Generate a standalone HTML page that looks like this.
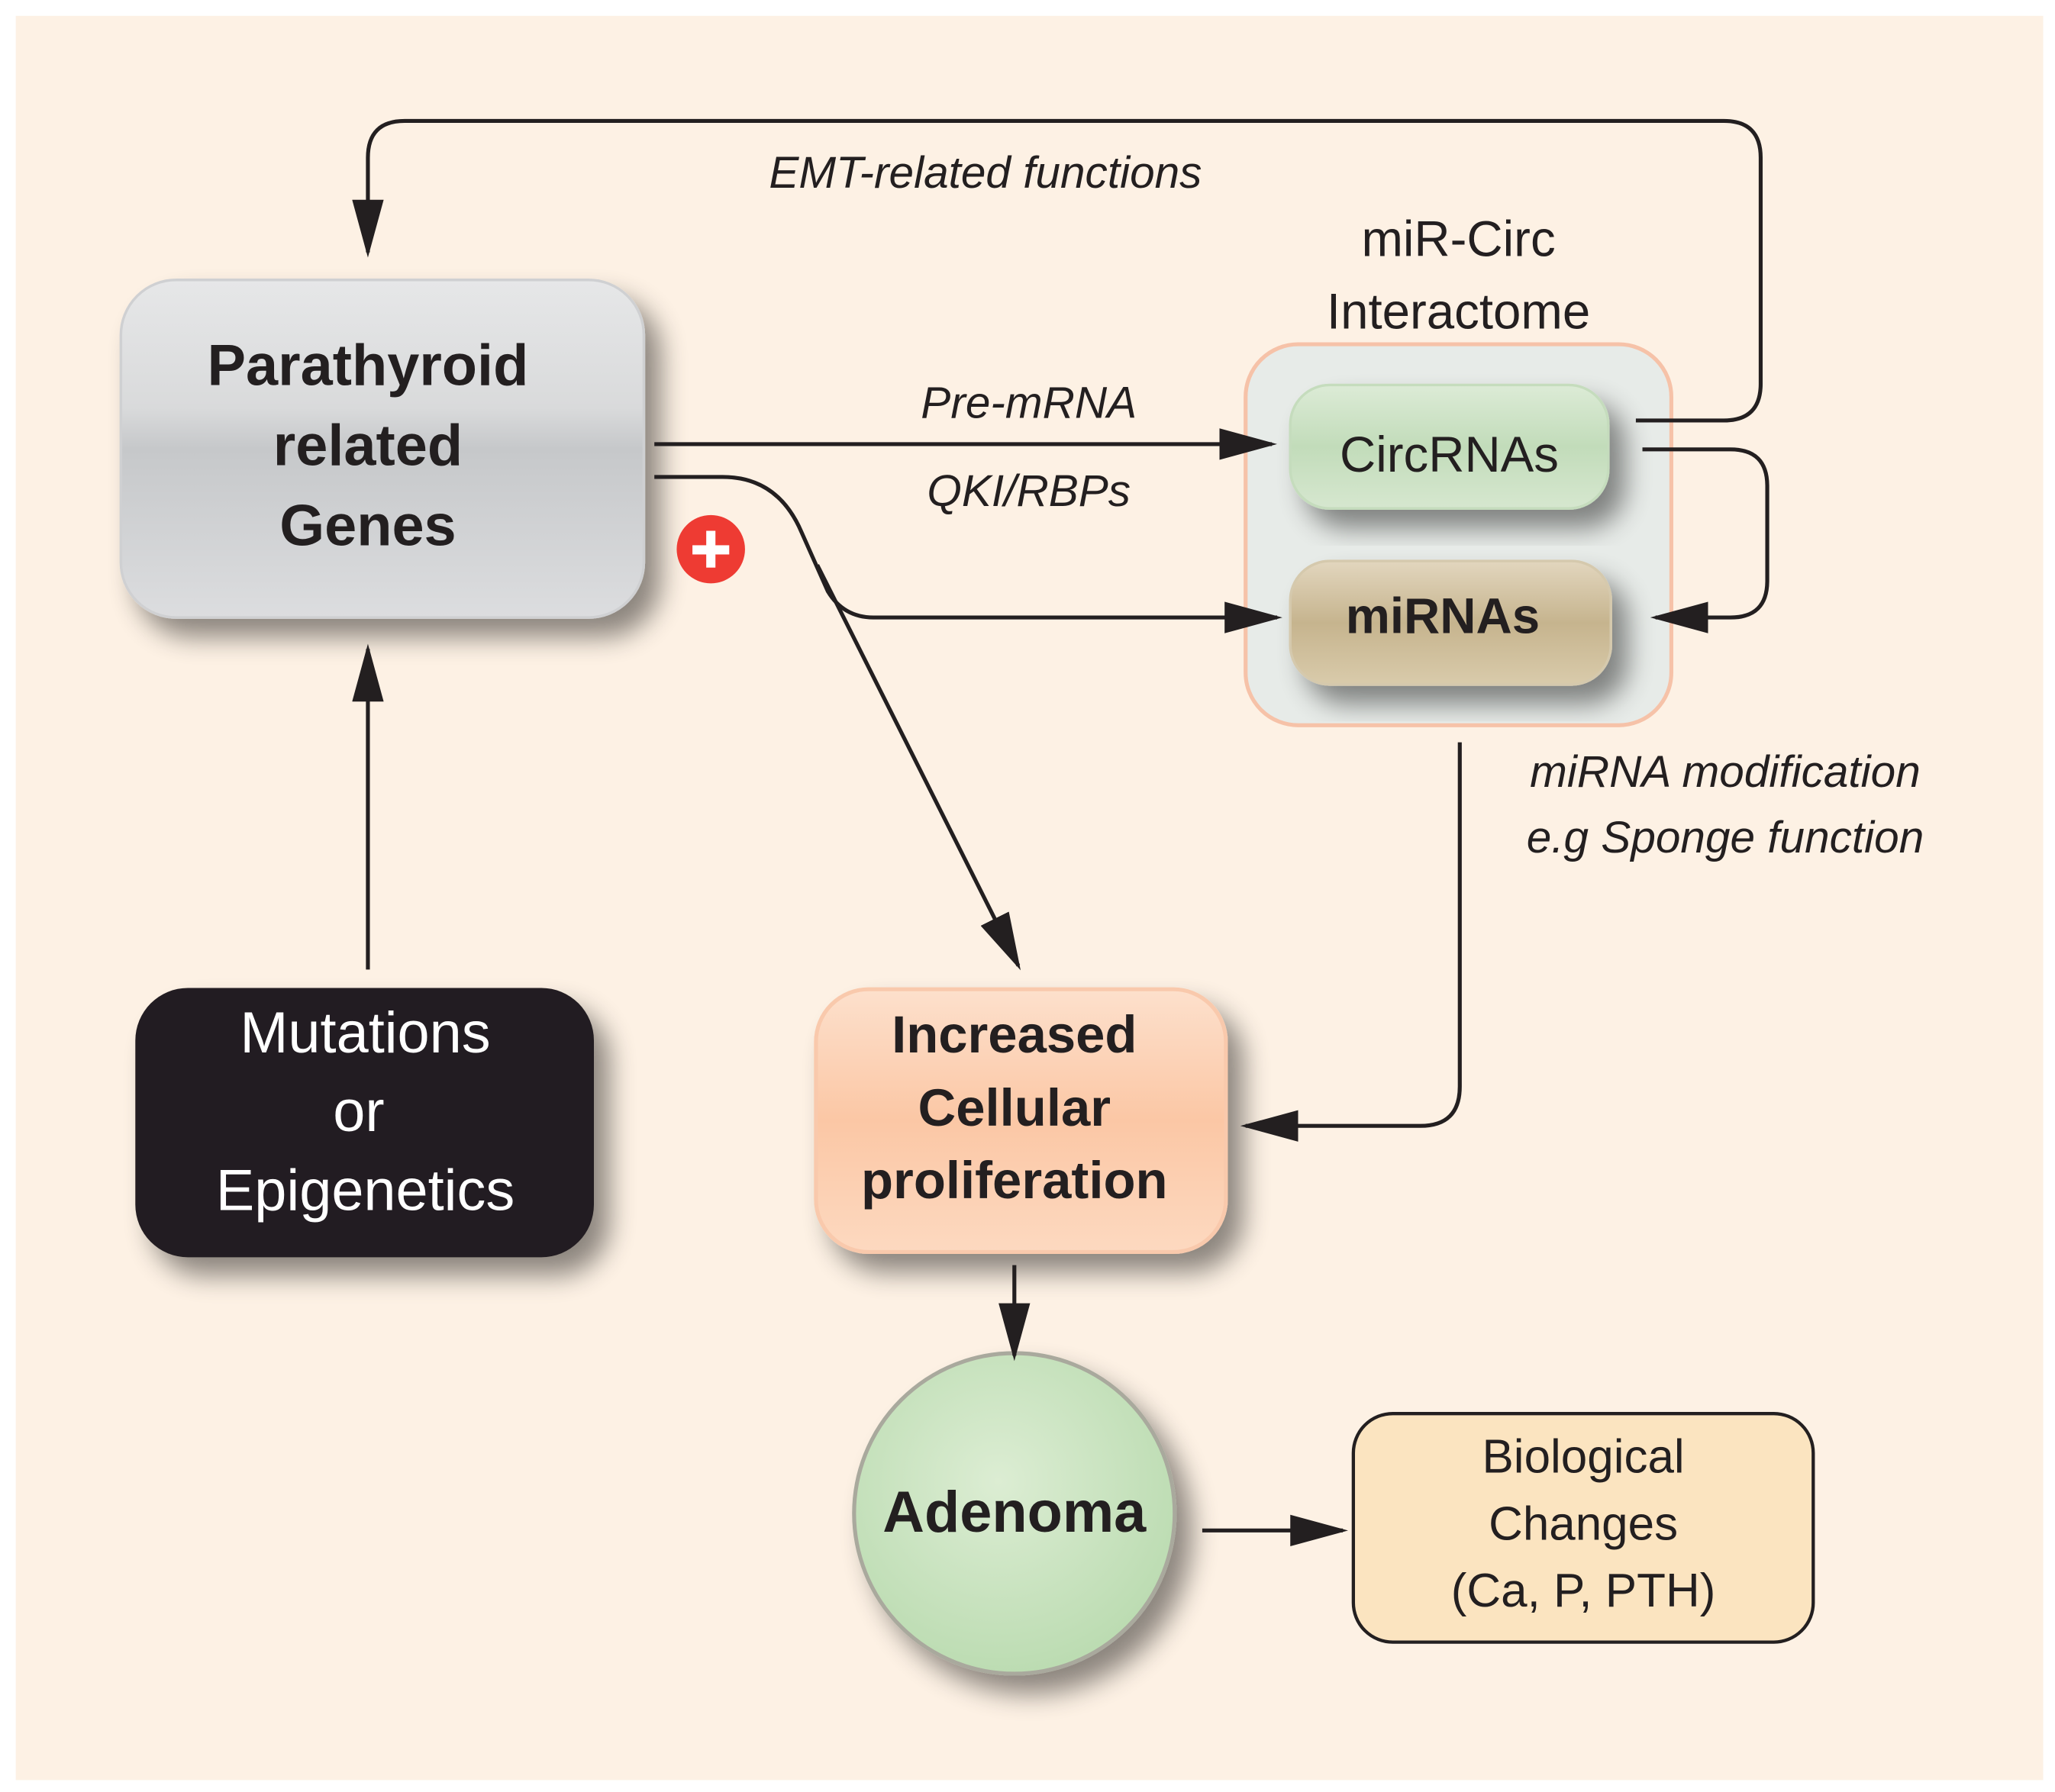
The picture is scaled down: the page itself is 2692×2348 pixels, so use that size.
<!DOCTYPE html>
<html><head><meta charset="utf-8"><style>
html,body{margin:0;padding:0;background:#fff;}
svg{display:block;}
text{font-family:"Liberation Sans",sans-serif;fill:#231f20;}
</style></head><body>
<svg width="2692" height="2348" viewBox="0 0 1564 1364" xmlns="http://www.w3.org/2000/svg">
<defs>
<linearGradient id="g1" x1="0" y1="0" x2="0" y2="1"><stop offset="0" stop-color="#e6e7e8"/><stop offset="0.38" stop-color="#d9dadb"/><stop offset="0.5" stop-color="#c6c8ca"/><stop offset="1" stop-color="#dcdddf"/></linearGradient>
<linearGradient id="gc" x1="0" y1="0" x2="0" y2="1"><stop offset="0" stop-color="#dcebd6"/><stop offset="0.5" stop-color="#c2dcba"/><stop offset="1" stop-color="#d6e7cf"/></linearGradient>
<linearGradient id="gm" x1="0" y1="0" x2="0" y2="1"><stop offset="0" stop-color="#e2d6be"/><stop offset="0.5" stop-color="#c6b48e"/><stop offset="1" stop-color="#d9cbab"/></linearGradient>
<linearGradient id="gi" x1="0" y1="0" x2="0" y2="1"><stop offset="0" stop-color="#fde0cc"/><stop offset="0.5" stop-color="#fbc7a5"/><stop offset="1" stop-color="#fdd9c0"/></linearGradient>
<radialGradient id="ga" cx="0.45" cy="0.4" r="0.6"><stop offset="0" stop-color="#dcedd3"/><stop offset="1" stop-color="#bcdcb2"/></radialGradient>
<filter id="sh" x="-30%" y="-30%" width="160%" height="160%"><feGaussianBlur in="SourceAlpha" stdDeviation="10"/><feOffset dx="12" dy="14"/><feComponentTransfer><feFuncA type="linear" slope="0.45"/></feComponentTransfer><feMerge><feMergeNode/><feMergeNode in="SourceGraphic"/></feMerge></filter>
<marker id="ah" markerWidth="10" markerHeight="8" refX="9" refY="4" orient="auto" markerUnits="userSpaceOnUse" viewBox="0 0 10 8"><path d="M0,0 L10,4 L0,8 z" fill="#231f20"/></marker>
<marker id="ar" markerWidth="44" markerHeight="24" refX="40" refY="12" orient="auto" markerUnits="userSpaceOnUse"><path d="M0,0 L44,12 L0,24 z" fill="#231f20"/></marker>
</defs>
<rect x="0" y="0" width="1564" height="1364" fill="#fff"/>
<rect x="12" y="12" width="1543" height="1343" fill="#fdf1e4"/>

<!-- boxes -->
<rect x="92" y="213" width="398" height="257" rx="42" fill="url(#g1)" stroke="#cfd0d2" stroke-width="2" filter="url(#sh)"/>
<text x="280" y="293" text-anchor="middle" font-size="44" font-weight="bold">Parathyroid</text>
<text x="280" y="354" text-anchor="middle" font-size="44" font-weight="bold">related</text>
<text x="280" y="415" text-anchor="middle" font-size="44" font-weight="bold">Genes</text>

<rect x="103" y="752" width="349" height="205" rx="40" fill="#231f20" filter="url(#sh)"/>
<text x="278" y="801" text-anchor="middle" font-size="44" style="fill:#fff">Mutations</text>
<text x="273" y="861" text-anchor="middle" font-size="44" style="fill:#fff">or</text>
<text x="278" y="921" text-anchor="middle" font-size="44" style="fill:#fff">Epigenetics</text>

<text x="1110" y="195" text-anchor="middle" font-size="38">miR-Circ</text>
<text x="1110" y="250" text-anchor="middle" font-size="38">Interactome</text>
<rect x="948" y="262" width="324" height="290" rx="40" fill="#e7ebe8" stroke="#f6c2a8" stroke-width="3"/>
<rect x="982" y="293" width="242" height="94" rx="30" fill="url(#gc)" stroke="#c5dcbd" stroke-width="2" filter="url(#sh)"/>
<text x="1103" y="359" text-anchor="middle" font-size="38">CircRNAs</text>
<rect x="982" y="427" width="244" height="94" rx="30" fill="url(#gm)" stroke="#d5c9ad" stroke-width="2" filter="url(#sh)"/>
<text x="1098" y="482" text-anchor="middle" font-size="38" font-weight="bold">miRNAs</text>

<rect x="621" y="753" width="312" height="200" rx="40" fill="url(#gi)" stroke="#f9c9ac" stroke-width="3" filter="url(#sh)"/>
<text x="772" y="801" text-anchor="middle" font-size="40" font-weight="bold">Increased</text>
<text x="772" y="857" text-anchor="middle" font-size="40" font-weight="bold">Cellular</text>
<text x="772" y="912" text-anchor="middle" font-size="40" font-weight="bold">proliferation</text>

<circle cx="772" cy="1152" r="122" fill="url(#ga)" stroke="#a9a99d" stroke-width="3" filter="url(#sh)"/>
<text x="772" y="1166" text-anchor="middle" font-size="44" font-weight="bold">Adenoma</text>

<rect x="1030" y="1076" width="350" height="174" rx="30" fill="#fbe4c0" stroke="#231f20" stroke-width="2.5"/>
<text x="1205" y="1121" text-anchor="middle" font-size="36">Biological</text>
<text x="1205" y="1172" text-anchor="middle" font-size="36">Changes</text>
<text x="1205" y="1223" text-anchor="middle" font-size="36">(Ca, P, PTH)</text>

<!-- connectors -->
<g fill="none" stroke="#231f20" stroke-width="3">
<path d="M280,738 L280,494" marker-end="url(#ar)"/>
<path d="M1245,320 L1312,320 Q1340,320 1340,292 L1340,120 Q1340,92 1312,92 L308,92 Q280,92 280,120 L280,192" marker-end="url(#ar)"/>
<path d="M498,338 L968,338" marker-end="url(#ar)"/>
<path d="M498,363 L550,363 Q592,363 610,405 L630,450 Q642,470 665,470 L972,470" marker-end="url(#ar)"/>
<path d="M622,430 L775,735" marker-end="url(#ar)"/>
<path d="M1250,342 L1317,342 Q1345,342 1345,370 L1345,442 Q1345,470 1317,470 L1260,470" marker-end="url(#ar)"/>
<path d="M1111,565 L1111,827 Q1111,857 1081,857 L948,857" marker-end="url(#ar)"/>
<path d="M772,963 L772,1032" marker-end="url(#ar)"/>
<path d="M915,1165 L1022,1165" marker-end="url(#ar)"/>
</g>

<circle cx="541" cy="418" r="26" fill="#ee3b33"/>
<rect x="527" y="415" width="28" height="7" fill="#fff"/>
<rect x="537.5" y="404" width="7" height="28" fill="#fff"/>

<text x="750" y="143" text-anchor="middle" font-size="34" font-style="italic">EMT-related functions</text>
<text x="783" y="318" text-anchor="middle" font-size="34" font-style="italic">Pre-mRNA</text>
<text x="783" y="385" text-anchor="middle" font-size="34" font-style="italic">QKI/RBPs</text>
<text x="1313" y="599" text-anchor="middle" font-size="34" font-style="italic">miRNA modification</text>
<text x="1313" y="649" text-anchor="middle" font-size="34" font-style="italic">e.g Sponge function</text>
</svg>
</body></html>
